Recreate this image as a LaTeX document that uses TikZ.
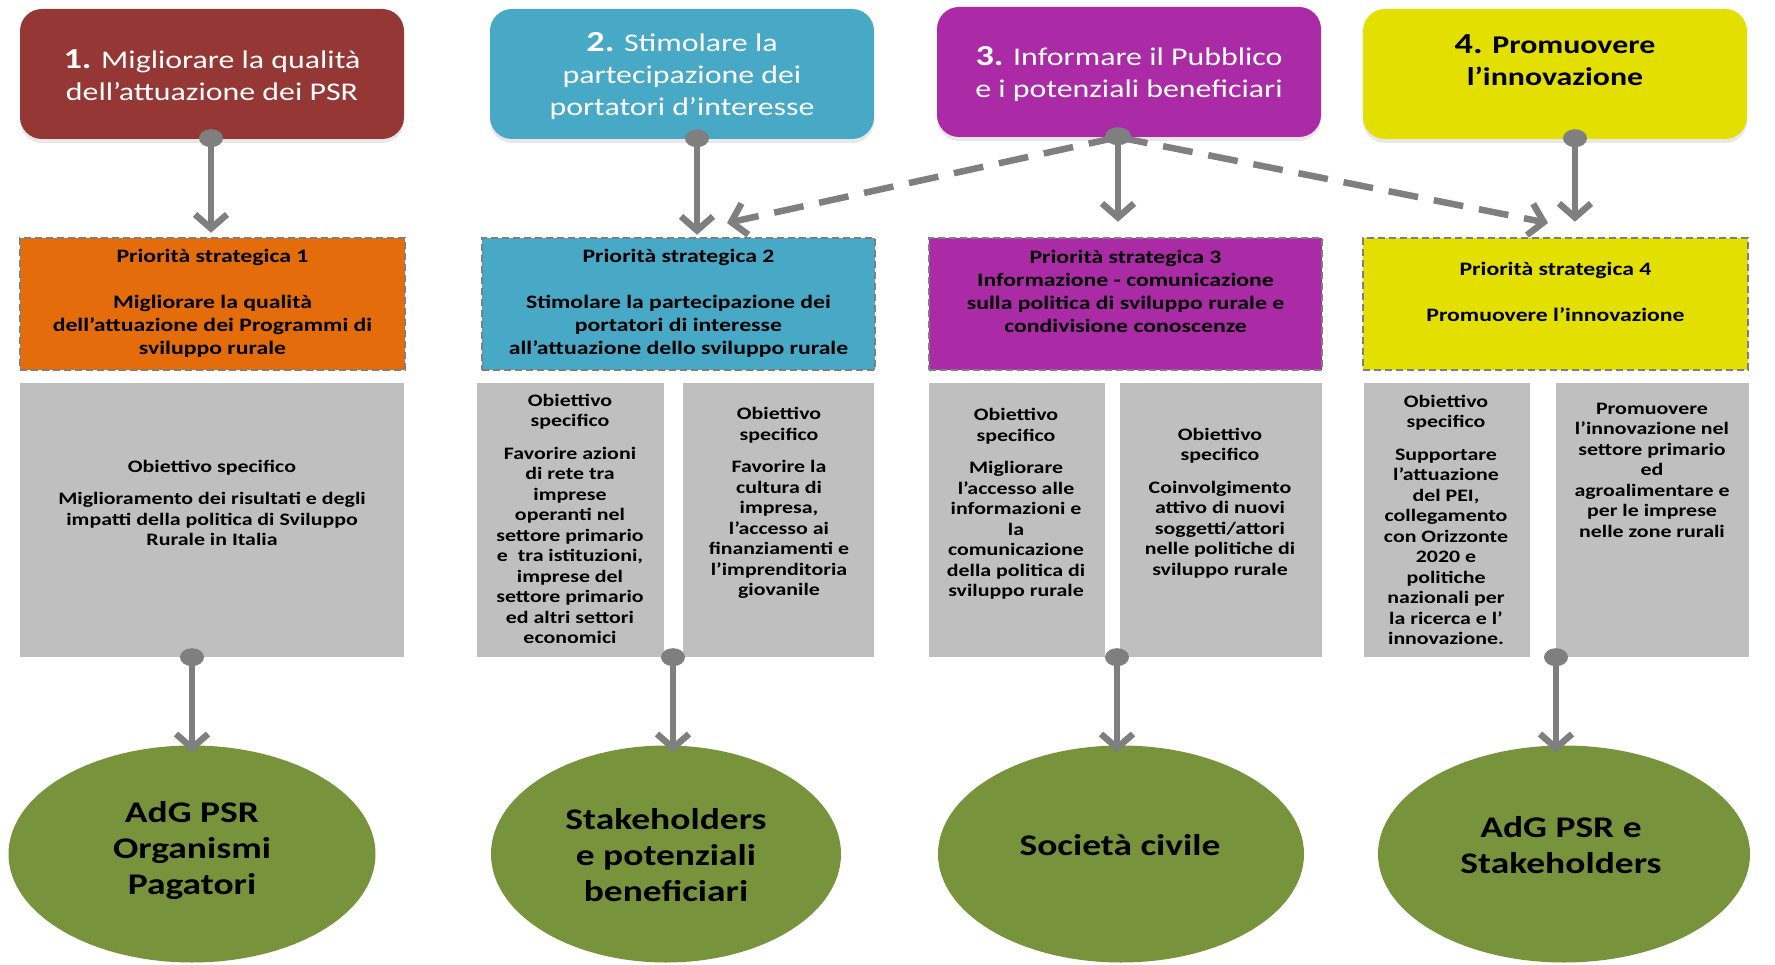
\documentclass[tikz,border=0pt]{standalone}
\usepackage{fontspec}
\setmainfont{Carlito}[FakeStretch=1.25]
\usetikzlibrary{arrows.meta,shadows,shapes.geometric}
\definecolor{cRed}{HTML}{953735}
\definecolor{cBlue}{HTML}{47A9C6}
\definecolor{cPurple}{HTML}{AB2BA7}
\definecolor{cYellow}{HTML}{E3DF00}
\definecolor{cOrange}{HTML}{E46C0A}
\definecolor{cGray}{HTML}{BFBFBF}
\definecolor{cGreen}{HTML}{77933C}
\definecolor{cArrow}{HTML}{7F7F7F}
\begin{document}
\begin{tikzpicture}[x=1pt,y=-1pt,
  topbox/.style={rounded corners=22pt, minimum width=384pt, minimum height=130pt, inner sep=0pt,
    drop shadow={opacity=0.18, shadow xshift=0pt, shadow yshift=-4pt}},
  prio/.style={draw=cArrow, dash pattern=on 7pt off 4pt, line width=2.5pt, minimum height=132pt, inner sep=0pt},
  obj/.style={fill=cGray, minimum height=274pt, inner sep=0pt},
  tgt/.style={ellipse, fill=cGreen, minimum height=217pt, inner sep=0pt},
  toptext/.style={align=center, font=\fontsize{25.5}{32}\selectfont, text=white, inner sep=0pt},
  priotext/.style={align=center, font=\bfseries\fontsize{19}{23}\selectfont, inner sep=0pt},
  objtext/.style={align=center, font=\bfseries\fontsize{17.5}{20.5}\selectfont, inner sep=0pt},
  tgttext/.style={align=center, font=\bfseries\fontsize{30}{36}\selectfont, inner sep=0pt},
  conn/.style={draw=cArrow, line width=6.5pt, -{Straight Barb[length=14pt,width=32pt]}},
  dconn/.style={conn, dash pattern=on 30pt off 16pt},
  dot/.style={fill=cArrow}
]
\useasboundingbox (0,0) rectangle (1775,965);
\fill[white] (0,0) rectangle (1775,965);

% top boxes
\node[topbox, fill=cRed]    (B1) at (212,74)  {};
\node[topbox, fill=cBlue]   (B2) at (682,74)  {};
\node[topbox, fill=cPurple] (B3) at (1129,72) {};
\node[topbox, fill=cYellow] (B4) at (1555,74) {};
\node[toptext] (B1t) at (212,75) {{\bfseries\fontsize{29}{32}\selectfont 1.} Migliorare la qualità\\dell’attuazione dei PSR};
\node[toptext] (B2t) at (682,76) {{\bfseries\fontsize{29}{32}\selectfont 2.} Stimolare la\\partecipazione dei\\portatori d’interesse};
\node[toptext] (B3t) at (1129,74) {{\bfseries\fontsize{29}{32}\selectfont 3.} Informare il Pubblico\\e i potenziali beneficiari};
\node[toptext, text=black, font=\bfseries\fontsize{25.5}{32}\selectfont] (B4t) at (1555,60) {{\fontsize{29}{32}\selectfont 4.} Promuovere\\l’innovazione};

% priority boxes
\node[prio, fill=cOrange, minimum width=385pt] (P1) at (212.5,304) {};
\node[prio, fill=cBlue,   minimum width=393pt] (P2) at (678.5,304) {};
\node[prio, fill=cPurple, minimum width=393pt] (P3) at (1125.5,304) {};
\node[prio, fill=cYellow, minimum width=385pt] (P4) at (1555.5,304) {};
\node[priotext] (P1t) at (212.5,303) {Priorità strategica 1\\[23pt]Migliorare la qualità\\dell’attuazione dei Programmi di\\sviluppo rurale};
\node[priotext] (P2t) at (678.5,303) {Priorità strategica 2\\[23pt]Stimolare la partecipazione dei\\portatori di interesse\\all’attuazione dello sviluppo rurale};
\node[priotext] (P3t) at (1125.5,291) {Priorità strategica 3\\Informazione - comunicazione\\sulla politica di sviluppo rurale e\\condivisione conoscenze};
\node[priotext] (P4t) at (1555.5,292) {Priorità strategica 4\\[23pt]Promuovere l’innovazione};

% objective boxes
\node[obj, minimum width=384pt] (O1)  at (212,520) {};
\node[obj, minimum width=187pt] (O2a) at (570.5,520) {};
\node[obj, minimum width=191pt] (O2b) at (778.5,520) {};
\node[obj, minimum width=176pt] (O3a) at (1017,520) {};
\node[obj, minimum width=202pt] (O3b) at (1221,520) {};
\node[obj, minimum width=166pt] (O4a) at (1447,520) {};
\node[obj, minimum width=193pt] (O4b) at (1652.5,520) {};
\node[objtext] (O1t)  at (212,503) {Obiettivo specifico\\[12pt]Miglioramento dei risultati e degli\\impatti della politica di Sviluppo\\Rurale in Italia};
\node[objtext] (O2at) at (570,519) {Obiettivo\\specifico\\[12pt]Favorire azioni\\di rete tra\\imprese\\operanti nel\\settore primario\\e\ \ tra istituzioni,\\imprese del\\settore primario\\ed altri settori\\economici};
\node[objtext] (O2bt) at (779,503) {Obiettivo\\specifico\\[12pt]Favorire la\\cultura di\\impresa,\\l’accesso ai\\finanziamenti e\\l’imprenditoria\\giovanile};
\node[objtext] (O3at) at (1016,504) {Obiettivo\\specifico\\[12pt]Migliorare\\l’accesso alle\\informazioni e\\la\\comunicazione\\della politica di\\sviluppo rurale};
\node[objtext] (O3bt) at (1220,503) {Obiettivo\\specifico\\[12pt]Coinvolgimento\\attivo di nuovi\\soggetti/attori\\nelle politiche di\\sviluppo rurale};
\node[objtext] (O4at) at (1446,520) {Obiettivo\\specifico\\[12pt]Supportare\\l’attuazione\\del PEI,\\collegamento\\con Orizzonte\\2020 e\\politiche\\nazionali per\\la ricerca e l’\\innovazione.};
\node[objtext] (O4bt) at (1652,470) {Promuovere\\l’innovazione nel\\settore primario\\ed\\agroalimentare e\\per le imprese\\nelle zone rurali};

% target ellipses
\node[tgt, minimum width=367pt] (E1) at (192,854) {};
\node[tgt, minimum width=350pt] (E2) at (666,854) {};
\node[tgt, minimum width=366pt] (E3) at (1121,854) {};
\node[tgt, minimum width=372pt] (E4) at (1564,854) {};
\node[tgttext] (E1t) at (192,851) {AdG PSR\\Organismi\\Pagatori};
\node[tgttext] (E2t) at (666,855) {Stakeholders\\e potenziali\\beneficiari};
\node[tgttext] (E3t) at (1120,845) {Società civile};
\node[tgttext] (E4t) at (1561,845) {AdG PSR e\\Stakeholders};

% arrow x positions
\coordinate (a1) at (211,0);
\coordinate (a2) at (697,0);
\coordinate (a3) at (1118,0);
\coordinate (a4) at (1575,0);
\coordinate (b1) at (192,0);
\coordinate (b2) at (673,0);
\coordinate (b3) at (1117,0);
\coordinate (b4) at (1556,0);
\coordinate (d2) at (727,223);
\coordinate (d4) at (1548,223);

% dashed connectors
\draw[dconn] (B3.south -| a3) -- (d2);
\draw[dconn] (B3.south -| a3) -- (d4);

% top connectors
\draw[conn, shorten >=4pt]  (B1.south -| a1) -- (P1.north -| a1);
\draw[conn, shorten >=2pt]  (B2.south -| a2) -- (P2.north -| a2);
\draw[conn, shorten >=15pt] (B3.south -| a3) -- (P3.north -| a3);
\draw[conn, shorten >=15pt] (B4.south -| a4) -- (P4.north -| a4);

% bottom connectors
\draw[conn, shorten >=-7pt] (O1.south -| b1)  -- (E1.north -| b1);
\draw[conn, shorten >=-7pt] (O2a.south -| b2) -- (E2.north -| b2);
\draw[conn, shorten >=-7pt] (O3a.south -| b3) -- (E3.north -| b3);
\draw[conn, shorten >=-7pt] (O4a.south -| b4) -- (E4.north -| b4);

% dots
\fill[dot] ([yshift=1pt]B1.south -| a1) ellipse [x radius=12pt, y radius=9pt];
\fill[dot] ([yshift=1pt]B2.south -| a2) ellipse [x radius=12pt, y radius=9pt];
\fill[dot] ([yshift=1pt]B3.south -| a3) ellipse [x radius=13pt, y radius=9pt];
\fill[dot] ([yshift=1pt]B4.south -| a4) ellipse [x radius=12pt, y radius=9pt];
\fill[dot] (O1.south -| b1)  ellipse [x radius=12pt, y radius=9pt];
\fill[dot] (O2a.south -| b2) ellipse [x radius=12pt, y radius=9pt];
\fill[dot] (O3a.south -| b3) ellipse [x radius=12pt, y radius=9pt];
\fill[dot] (O4a.south -| b4) ellipse [x radius=12pt, y radius=9pt];
\end{tikzpicture}
\end{document}
